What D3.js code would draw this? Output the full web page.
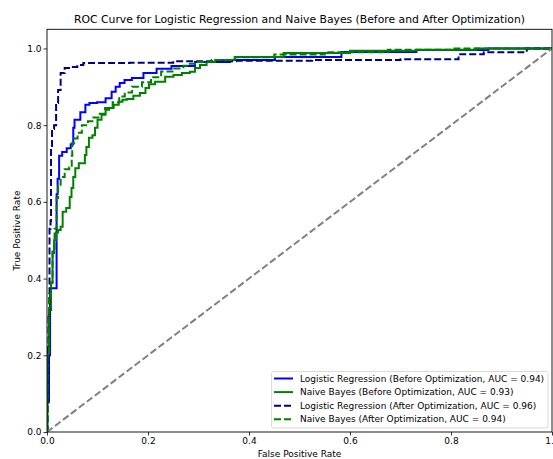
<!DOCTYPE html>
<html><head><meta charset="utf-8">
<script src="https://cdn.jsdelivr.net/npm/d3@7"></script>
<style>body{margin:0;background:#fff}svg{display:block}text{font-family:"DejaVu Sans",sans-serif;fill:#000}</style>
</head><body>
<svg id="chart" width="553" height="459"></svg>
<script>
const title = "ROC Curve for Logistic Regression and Naive Bayes (Before and After Optimization)";
const xLabel = "False Positive Rate";
const yLabel = "True Positive Rate";
const ticks = [0, 0.2, 0.4, 0.6, 0.8, 1.0];
const seriesNames = [
  "Logistic Regression (Before Optimization, AUC = 0.94)",
  "Naive Bayes (Before Optimization, AUC = 0.93)",
  "Logistic Regression (After Optimization, AUC = 0.96)",
  "Naive Bayes (After Optimization, AUC = 0.94)"
];
const lrBefore = [[0,0],[0,0.08],[0.004,0.08],[0.004,0.2],[0.008,0.375],[0.018,0.375],[0.020,0.62],[0.022,0.66],[0.026,0.72],[0.034,0.73],[0.044,0.74],[0.050,0.75],[0.054,0.77],[0.050,0.793],[0.059,0.814],[0.073,0.834],[0.079,0.853],[0.089,0.858],[0.109,0.860],[0.123,0.870],[0.133,0.887],[0.139,0.900],[0.149,0.910],[0.158,0.918],[0.178,0.923],[0.204,0.936],[0.230,0.947],[0.263,0.954],[0.323,0.965],[0.402,0.970],[0.501,0.978],[0.665,0.991],[0.798,0.996],[0.95,1.0],[1,1]];
const nbBefore = [[0,0],[0.002,0.222],[0.006,0.318],[0.010,0.389],[0.012,0.467],[0.016,0.50],[0.020,0.52],[0.024,0.527],[0.030,0.535],[0.032,0.574],[0.044,0.584],[0.046,0.613],[0.051,0.636],[0.053,0.665],[0.059,0.688],[0.067,0.701],[0.073,0.701],[0.077,0.722],[0.079,0.743],[0.087,0.767],[0.093,0.774],[0.097,0.793],[0.103,0.814],[0.113,0.827],[0.119,0.840],[0.127,0.845],[0.137,0.853],[0.147,0.861],[0.152,0.866],[0.164,0.868],[0.178,0.877],[0.190,0.884],[0.200,0.897],[0.204,0.907],[0.224,0.913],[0.244,0.926],[0.257,0.931],[0.277,0.936],[0.289,0.939],[0.297,0.949],[0.309,0.957],[0.323,0.965],[0.343,0.970],[0.402,0.978],[0.535,0.988],[0.665,0.994],[0.798,0.997],[0.9,1.0],[1,1]];
const lrAfter = [[0,0],[0.002,0.07],[0.004,0.30],[0.006,0.53],[0.008,0.55],[0.008,0.74],[0.012,0.79],[0.016,0.80],[0.020,0.858],[0.024,0.892],[0.030,0.936],[0.040,0.949],[0.053,0.952],[0.067,0.957],[0.077,0.962],[0.127,0.962],[0.2,0.963],[0.3,0.967],[0.45,0.968],[0.6,0.970],[0.8,0.972],[0.83,0.985],[0.9,0.990],[1,1]];
const nbAfter = [[0,0],[0.002,0.2],[0.006,0.36],[0.010,0.39],[0.012,0.475],[0.018,0.53],[0.020,0.61],[0.024,0.64],[0.030,0.665],[0.040,0.685],[0.048,0.69],[0.050,0.72],[0.050,0.754],[0.058,0.765],[0.063,0.78],[0.075,0.80],[0.087,0.81],[0.097,0.82],[0.107,0.83],[0.123,0.845],[0.137,0.86],[0.149,0.875],[0.159,0.885],[0.178,0.900],[0.198,0.912],[0.214,0.925],[0.238,0.94],[0.263,0.948],[0.277,0.955],[0.283,0.96],[0.309,0.965],[0.343,0.97],[0.40,0.977],[0.5,0.984],[0.6,0.990],[0.75,0.997],[0.85,1.0],[1,1]];
const chance = [[0,0],[1,1]];

const svg = d3.select("#chart");
const L = 47, R = 552, T = 29.3, B = 432;
const x = d3.scaleLinear().domain([0,1]).range([L,R]);
const y = d3.scaleLinear().domain([0,1.05]).range([B,T]);

svg.append("defs").append("clipPath").attr("id","clip").append("rect")
  .attr("x",L).attr("y",T).attr("width",R-L).attr("height",B-T);

const line = d3.line().x(d=>x(d[0])).y(d=>y(d[1])).curve(d3.curveStep);
const lin = d3.line().x(d=>x(d[0])).y(d=>y(d[1]));
const g = svg.append("g").attr("clip-path","url(#clip)");
const styles = [
  {data: lrBefore, color: "blue", dash: null},
  {data: nbBefore, color: "green", dash: null},
  {data: lrAfter, color: "navy", dash: "7,3"},
  {data: nbAfter, color: "green", dash: "7,3"}
];
styles.forEach(s => {
  g.append("path").attr("d", line(s.data)).attr("fill","none")
   .attr("stroke", s.color).attr("stroke-width", 2)
   .attr("stroke-dasharray", s.dash).attr("stroke-linejoin","miter");
});
g.append("path").attr("d", lin(chance)).attr("fill","none").attr("stroke","gray")
  .attr("stroke-width",2).attr("stroke-dasharray","7,3");

// axes
const fs = 9;
const xAxis = d3.axisBottom(x).tickValues(ticks).tickSize(3.5).tickPadding(2).tickFormat(d3.format(".1f"));
const yAxis = d3.axisLeft(y).tickValues(ticks).tickSize(3.5).tickPadding(2).tickFormat(d3.format(".1f"));
const gx = svg.append("g").attr("transform",`translate(0,${B})`).call(xAxis);
const gy = svg.append("g").attr("transform",`translate(${L},0)`).call(yAxis);
[gx,gy].forEach(a => { a.select(".domain").remove(); a.selectAll("text").attr("font-size",fs).attr("font-family","DejaVu Sans").attr("fill","#000"); a.selectAll("line").attr("stroke","#000").attr("stroke-width",0.8); });
gx.selectAll("text").attr("dy","0.75em");
svg.append("rect").attr("x",L).attr("y",T).attr("width",R-L).attr("height",B-T)
  .attr("fill","none").attr("stroke","#000").attr("stroke-width",0.9);

svg.append("text").attr("x",(L+R)/2).attr("y",22.5).attr("text-anchor","middle").attr("font-size",10.8).text(title);
svg.append("text").attr("x",(L+R)/2).attr("y",456.5).attr("text-anchor","middle").attr("font-size",fs).text(xLabel);
svg.append("text").attr("transform",`translate(20,${(T+B)/2}) rotate(-90)`).attr("text-anchor","middle").attr("font-size",fs).text(yLabel);

// legend
const lg = svg.append("g");
lg.append("rect").attr("x",271.5).attr("y",371.5).attr("width",276.5).attr("height",56.5).attr("rx",2)
  .attr("fill","#fff").attr("fill-opacity",0.8).attr("stroke","#d0d0d0").attr("stroke-width",0.8);
styles.forEach((s,i) => {
  const yy = 378.5 + i*13.6;
  lg.append("line").attr("x1",274).attr("x2",293).attr("y1",yy).attr("y2",yy)
    .attr("stroke",s.color).attr("stroke-width",2).attr("stroke-dasharray",s.dash);
  lg.append("text").attr("x",300).attr("y",yy).attr("dy","0.35em").attr("font-size",fs).text(seriesNames[i]);
});
</script>
</body></html>
